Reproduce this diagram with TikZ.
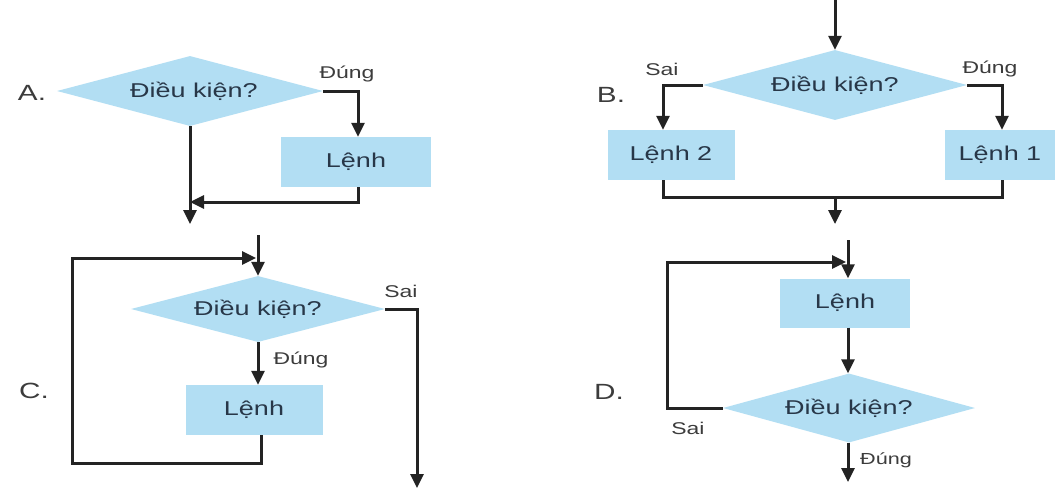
\documentclass[tikz,border=0pt]{standalone}
\usepackage{fontspec}
\setmainfont[FakeStretch=1.35]{Liberation Sans}
\usetikzlibrary{shapes.geometric,arrows.meta}
\definecolor{boxfill}{RGB}{178,222,243}
\definecolor{boxtext}{RGB}{40,55,72}
\definecolor{linec}{RGB}{35,35,35}
\definecolor{labc}{RGB}{60,60,60}
\tikzset{
  cond/.style={diamond,aspect=3.8,fill=boxfill,inner sep=0pt,text=boxtext,font=\fontsize{20}{22}\selectfont},
  cmd/.style={rectangle,fill=boxfill,inner sep=0pt,text=boxtext,font=\fontsize{20}{22}\selectfont},
  conn/.style={draw=linec,line width=3pt},
  arr/.style={conn,-{Triangle[length=14pt,width=13pt]}},
  lab/.style={text=labc,font=\fontsize{17}{20}\selectfont,inner sep=0pt},
  letter/.style={text=labc,font=\fontsize{22}{24}\selectfont,inner sep=0pt}
}
\begin{document}
\begin{tikzpicture}[x=1pt,y=-1pt]
\useasboundingbox (0,0) rectangle (1060,495);
\fill[white] (0,0) rectangle (1060,495);

% ---------- A ----------
\node[letter] (LA) at (32,93) {A.};
\node[cond,minimum width=266pt,minimum height=70pt] (dA) at (190,91) {\hspace*{8pt}Điều kiện?};
\node[cmd,minimum width=150pt,minimum height=50pt] (lA) at (356,162) {Lệnh};
\node[lab] (tA) at (347,74) {Đúng};
\coordinate (aR) at (358,91);
\coordinate (jA) at (190,202);
\coordinate (eA) at (190,224);
\draw[arr] (dA.east) -- (aR) -- (aR |- lA.north);
\draw[arr] (dA.south) -- (eA);
\draw[arr] (aR |- lA.south) |- (jA);

% ---------- B ----------
\node[letter] (LB) at (611,95) {B.};
\node[cond,minimum width=264pt,minimum height=70pt] (dB) at (835,85) {Điều kiện?};
\node[cmd,minimum width=127pt,minimum height=50pt] (l2) at (671,155) {Lệnh 2};
\node[cmd,minimum width=110pt,minimum height=50pt] (l1) at (1000,155) {Lệnh 1};
\node[lab] (sB) at (662,69) {Sai};
\node[lab] (tB) at (990,69) {Đúng};
\coordinate (bT) at (835,0);
\coordinate (bL) at (663,85);
\coordinate (bR) at (1002,85);
\coordinate (bJL) at (663,197);
\coordinate (bJR) at (1002,197);
\coordinate (bJ) at (835,197);
\coordinate (bE) at (835,224);
\draw[arr] (bT) -- (dB.north);
\draw[arr] (dB.west) -- (bL) -- (bL |- l2.north);
\draw[arr] (dB.east) -- (bR) -- (bR |- l1.north);
\draw[conn] (bL |- l2.south) -- (bJL) -- (bJR) -- (bR |- l1.south);
\draw[arr] (bJ) -- (bE);

% ---------- C ----------
\node[letter] (LC) at (34,391) {C.};
\node[cond,minimum width=254pt,minimum height=66pt] (dC) at (258,309) {Điều kiện?};
\node[cmd,minimum width=137pt,minimum height=50pt] (lC) at (254,410) {Lệnh};
\node[lab] (sC) at (401,291) {Sai};
\node[lab] (tC) at (301,360) {Đúng};
\coordinate (cT) at (258,235);
\coordinate (cB) at (261,463);
\coordinate (cL) at (72,463);
\coordinate (cLT) at (72,258);
\coordinate (cIn) at (256,258);
\coordinate (cR) at (417,309);
\coordinate (cE) at (417,488);
\draw[arr] (cT) -- (dC.north);
\draw[arr] (dC.south) -- (dC.south |- lC.north);
\draw[arr] (cB |- lC.south) -- (cB) -- (cL) -- (cLT) -- (cIn);
\draw[arr] (dC.east) -- (cR) -- (cE);

% ---------- D ----------
\node[letter] (LD) at (609,392) {D.};
\node[cmd,minimum width=130pt,minimum height=49pt] (lD) at (845,303) {Lệnh};
\node[cond,minimum width=252pt,minimum height=69pt] (dD) at (849,408) {Điều kiện?};
\node[lab] (sD) at (688,428) {Sai};
\node[lab,font=\fontsize{16}{18}\selectfont] (tD) at (886,460) {Đúng};
\coordinate (dT) at (848,240);
\coordinate (dL) at (667,408);
\coordinate (dLT) at (667,262);
\coordinate (dIn) at (846,262);
\coordinate (dE) at (848,482);
\draw[arr] (dT) -- (dT |- lD.north);
\draw[arr] (dT |- lD.south) -- (dT |- dD.north);
\draw[arr] (dD.west) -- (dL) -- (dLT) -- (dIn);
\draw[arr] (dT |- dD.south) -- (dE);
\end{tikzpicture}
\end{document}
